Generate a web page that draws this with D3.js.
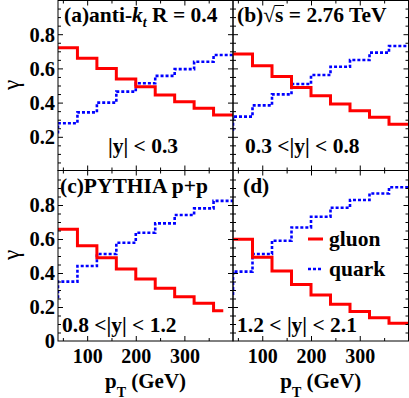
<!DOCTYPE html>
<html>
<head>
<meta charset="utf-8">
<script src="https://cdn.jsdelivr.net/npm/d3@7"></script>
<style>
    body { margin: 0; background: #fff; }
    svg text { font-family: "Liberation Serif", "Times New Roman", serif; font-weight: bold; fill: #000; white-space: pre; }
</style>
</head>
<body>
<div class="chart"></div>
<script>
// jet pT bin edges (GeV)
const binEdges = [40, 80, 120, 160, 200, 240, 280, 320, 360, 400];
const xTickLabels = [100, 200, 300];
const yTicksTop = [0.2, 0.4, 0.6, 0.8];
const yTicksBottom = [0, 0.2, 0.4, 0.6, 0.8];

// gluon fraction per bin, panels (a) to (d)
const gluonA = [0.721, 0.659, 0.600, 0.538, 0.493, 0.444, 0.405, 0.367, 0.327];
const gluonB = [0.684, 0.616, 0.552, 0.489, 0.440, 0.392, 0.353, 0.314, 0.273];
const gluonC = [0.657, 0.561, 0.490, 0.424, 0.365, 0.310, 0.261, 0.222, 0.178];
const gluonD = [0.598, 0.492, 0.412, 0.333, 0.271, 0.216, 0.173, 0.137, 0.104];

// quark fraction per bin
const quarkA = [0.279, 0.343, 0.400, 0.464, 0.513, 0.556, 0.596, 0.639, 0.678];
const quarkB = [0.318, 0.384, 0.448, 0.509, 0.561, 0.610, 0.649, 0.692, 0.731];
const quarkC = [0.349, 0.441, 0.512, 0.578, 0.637, 0.692, 0.741, 0.780, 0.824];
const quarkD = [0.408, 0.512, 0.590, 0.668, 0.731, 0.784, 0.829, 0.868, 0.904];

// quark value of the bin below 40 GeV (only its rising edge is visible)
const quarkBelow = [0.220, 0.236, 0.251, 0.270];
// upper end of the gluon histogram in each panel
const gluonEnd = [400, 400, 380, 400];

const rapidityLabels = ["|y| < 0.3", "0.3 <|y| < 0.8", "0.8 <|y| < 1.2", "1.2 < |y| < 2.1"];
const legendNames = ["gluon", "quark"];

const gluonSets = [gluonA, gluonB, gluonC, gluonD];
const quarkSets = [quarkA, quarkB, quarkC, quarkD];

const Width = 409, Height = 398;
const colX = [58, 233, 408.5];
const rowY = [0.5, 170.5, 341];
const labelSize = "21.5px";

const svg = d3.select(".chart").append("svg")
    .attr("width", Width)
    .attr("height", Height);

const defs = svg.append("defs");

// panel layout: column, row, text anchor positions
const panels = [
    {col: 0, row: 0, rapX: 108, rapY: 152.5},
    {col: 1, row: 0, rapX: 245, rapY: 152.5},
    {col: 0, row: 1, rapX: 62, rapY: 332},
    {col: 1, row: 1, rapX: 237, rapY: 332}
];

const line = d3.line();

function histPoints(values, x, y, end, below) {
    let pts = [];
    if (below !== undefined) pts.push([x(binEdges[0]), y(below)]);
    values.forEach((v, i) => {
        let lo = binEdges[i], hi = Math.min(binEdges[i + 1], end);
        if (lo >= end) return;
        pts.push([x(lo), y(v)]);
        pts.push([x(hi), y(v)]);
    });
    return pts;
}

panels.forEach((p, k) => {
    let x0 = colX[p.col], x1 = colX[p.col + 1];
    let y0 = rowY[p.row], y1 = rowY[p.row + 1];
    let x = d3.scaleLinear().domain([40, 400]).range([x0, x1]);
    let y = d3.scaleLinear().domain([0, 1]).range(p.row === 0 ? [171, 0] : [341, 171]);

    defs.append("clipPath").attr("id", "clip" + k)
        .append("rect").attr("x", x0).attr("y", y0).attr("width", x1 - x0).attr("height", y1 - y0);

    let g = svg.append("g");

    // histograms
    let plot = g.append("g").attr("clip-path", "url(#clip" + k + ")");
    plot.append("path")
        .attr("d", line(histPoints(quarkSets[k], x, y, 400, quarkBelow[k])))
        .attr("fill", "none")
        .attr("stroke", "#0000ff")
        .attr("stroke-width", 2.6)
        .attr("stroke-dasharray", "3,2");
    plot.append("path")
        .attr("d", line(histPoints(gluonSets[k], x, y, gluonEnd[k])))
        .attr("fill", "none")
        .attr("stroke", "#ff0000")
        .attr("stroke-width", 3);

    // ticks on all four sides, pointing inward
    let xMajor = [100, 200, 300], xMinor = [50, 150, 250, 350];
    let yMajor = d3.range(0.2, 0.99, 0.2), yMinor = d3.range(0.05, 0.99, 0.05).filter(v => Math.abs(v * 5 - Math.round(v * 5)) > 1e-6);
    [[xMajor, 5], [xMinor, 3]].forEach(([vals, len]) => {
        g.append("g").attr("transform", "translate(0," + y1 + ")")
            .call(d3.axisBottom(x).tickValues(vals).tickSize(-len).tickFormat(""));
        g.append("g").attr("transform", "translate(0," + y0 + ")")
            .call(d3.axisTop(x).tickValues(vals).tickSize(-len).tickFormat(""));
    });
    [[yMajor, 5], [yMinor, 3]].forEach(([vals, len]) => {
        g.append("g").attr("transform", "translate(" + x0 + ",0)")
            .call(d3.axisLeft(y).tickValues(vals).tickSize(-len).tickFormat(""));
        g.append("g").attr("transform", "translate(" + x1 + ",0)")
            .call(d3.axisRight(y).tickValues(vals).tickSize(-len).tickFormat(""));
    });
    g.selectAll(".domain").remove();
    g.selectAll(".tick line").attr("stroke", "#000").attr("stroke-width", 1);

    // frame
    g.append("rect")
        .attr("x", x0).attr("y", y0).attr("width", x1 - x0).attr("height", y1 - y0)
        .attr("fill", "none").attr("stroke", "#000").attr("stroke-width", 1);

    // tick labels
    if (p.col === 0) {
        let ax = g.append("g").attr("transform", "translate(" + x0 + ",0)")
            .call(d3.axisLeft(y).tickValues(p.row === 0 ? yTicksTop : yTicksBottom)
                .tickSize(0).tickPadding(3).tickFormat(d => d === 0 ? "0" : d3.format(".1f")(d)));
        ax.select(".domain").remove();
        ax.attr("font-size", null).attr("font-family", null);
        ax.selectAll("text").style("font-size", "20.5px").attr("dy", "0.34em");
    }
    if (p.row === 1) {
        let ax = g.append("g").attr("transform", "translate(0," + y1 + ")")
            .call(d3.axisBottom(x).tickValues(xTickLabels).tickSize(0).tickPadding(8));
        ax.select(".domain").remove();
        ax.attr("font-size", null).attr("font-family", null);
        ax.selectAll("text").style("font-size", "20px");

        // x axis title
        let t = g.append("text")
            .attr("x", (x0 + x1) / 2).attr("y", 387.5)
            .attr("text-anchor", "middle")
            .style("font-size", "21px");
        t.append("tspan").text("p");
        t.append("tspan").attr("dy", 9).style("font-size", "14px").text("T");
        t.append("tspan").attr("dy", -9).text(" (GeV)");
    }
    if (p.col === 0) {
        g.append("text")
            .attr("transform", "translate(19," + (p.row === 0 ? 85 : 255) + ") rotate(-90)")
            .attr("text-anchor", "middle")
            .style("font-size", "23px")
            .style("font-weight", "normal")
            .text("γ");
    }

    // rapidity window
    g.append("text")
        .attr("x", p.rapX).attr("y", p.rapY)
        .style("font-size", labelSize)
        .text(rapidityLabels[k]);
});

// panel labels
let la = svg.append("text").attr("x", 64).attr("y", 21.5).style("font-size", labelSize);
la.append("tspan").text("(a)anti-");
la.append("tspan").style("font-style", "italic").text("k");
la.append("tspan").attr("dy", 5).style("font-style", "italic").style("font-size", "14px").text("t");
la.append("tspan").attr("dy", -5).text(" R = 0.4");

let lb = svg.append("text").attr("x", 237).attr("y", 21.5).style("font-size", labelSize);
lb.append("tspan").text("(b)");
lb.append("tspan").style("font-weight", "normal").text("√");
lb.append("tspan").text("s");
lb.append("tspan").text(" = 2.76 TeV");
// bar over the s of the square root
let lbNode = lb.node();
let sStart = lbNode.getStartPositionOfChar(4).x, sEnd = lbNode.getEndPositionOfChar(4).x;
svg.append("line")
    .attr("x1", sStart - 0.5).attr("x2", sEnd + 0.5)
    .attr("y1", 5.5).attr("y2", 5.5)
    .attr("stroke", "#000").attr("stroke-width", 1);

svg.append("text").attr("x", 60).attr("y", 193).style("font-size", labelSize).text("(c)PYTHIA p+p");
svg.append("text").attr("x", 243).attr("y", 193).style("font-size", labelSize).text("(d)");

// legend in panel (d)
let leg = svg.append("g");
legendNames.forEach((name, i) => {
    let ly = 239 + i * 30;
    leg.append("line")
        .attr("x1", 308).attr("x2", 323).attr("y1", ly).attr("y2", ly)
        .attr("stroke", i === 0 ? "#ff0000" : "#0000ff")
        .attr("stroke-width", i === 0 ? 3 : 2.6)
        .attr("stroke-dasharray", i === 0 ? null : "3,2");
    leg.append("text")
        .attr("x", 329).attr("y", ly + 7)
        .style("font-size", labelSize)
        .text(name);
});
</script>
</body>
</html>
